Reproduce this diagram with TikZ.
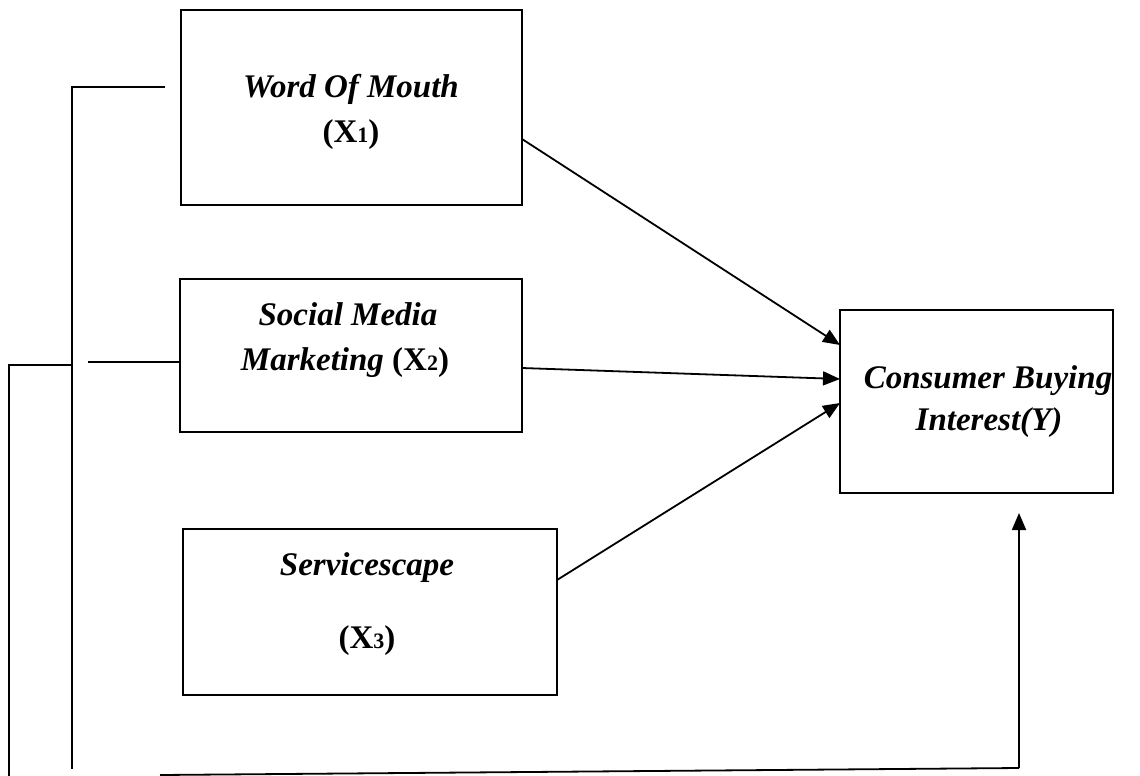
\documentclass[tikz,border=0pt]{standalone}
\usepackage{fontspec}
\setmainfont{Liberation Serif}
\usetikzlibrary{arrows.meta}
\begin{document}
\begin{tikzpicture}[x=1pt,y=-1pt,
  box/.style={draw, line width=1.8pt, inner sep=0pt, outer sep=0pt},
  lbl/.style={font=\fontsize{33}{38}\selectfont\bfseries\itshape, inner sep=0pt, anchor=base},
  lblup/.style={font=\fontsize{33}{38}\selectfont\bfseries, inner sep=0pt, anchor=base},
  conn/.style={line width=1.8pt},
  arr/.style={line width=1.8pt, -{Triangle[length=17pt,width=14pt]}}]
\useasboundingbox (0,0) rectangle (1140,776);
% boxes
\node[box, minimum width=341pt, minimum height=195pt] (b1) at (351.5,107.5) {};
\node[box, minimum width=342pt, minimum height=153pt] (b2) at (351,355.5) {};
\node[box, minimum width=374pt, minimum height=166pt] (b3) at (370,612) {};
\node[box, minimum width=273pt, minimum height=183pt] (by) at (976.5,401.5) {};
% labels
\node[lbl] (t1a) at (351,97) {Word Of Mouth};
\node[lblup] (t1b) at (351,142) {(X{\fontsize{22}{22}\selectfont 1})};
\node[lbl] (t2a) at (348,325) {Social Media};
\node[lbl] (t2b) at (345,370) {Marketing \upshape(X{\fontsize{22}{22}\selectfont 2})};
\node[lbl] (t3a) at (367,575) {Servicescape};
\node[lblup] (t3b) at (367,648) {(X{\fontsize{22}{22}\selectfont 3})};
\node[lbl] (tya) at (988,388) {Consumer Buying};
\node[lbl] (tyb) at (989,430) {Interest(Y)};
% free-end coordinates
\coordinate (tl) at (165,87);
\coordinate (tc) at (72,87);
\coordinate (bc) at (72,769);
\coordinate (m2) at (88,362);
\coordinate (lc) at (72,365);
\coordinate (lt) at (9,365);
\coordinate (lb) at (9,776);
\coordinate (bs) at (160,775);
\coordinate (be) at (1019,768);
\coordinate (yt) at (1019,513);
% bracket lines
\draw[conn] (tl) -- (tc) -- (bc);
\draw[conn] (m2) -- (m2 -| b2.west);
\draw[conn] (lc) -- (lt) -- (lb);
\draw[conn] (bs) -- (be);
\draw[arr] (be) -- (yt);
% arrows
\draw[arr] ([yshift=-31.5pt]b1.east) -- ([yshift=56.5pt]by.west);
\draw[arr] ([yshift=-12.5pt]b2.east) -- ([yshift=22.5pt]by.west);
\draw[arr] ([yshift=32pt]b3.east) -- ([yshift=-1.5pt]by.west);
\end{tikzpicture}
\end{document}
